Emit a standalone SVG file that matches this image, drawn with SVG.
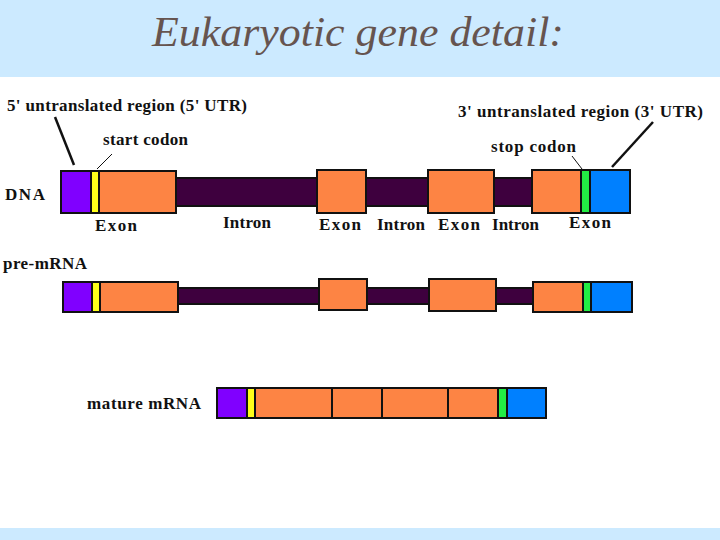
<svg xmlns="http://www.w3.org/2000/svg" width="720" height="540" viewBox="0 0 720 540">
<style>
.lbl{font-family:"Liberation Serif",serif;font-size:17px;font-weight:bold;fill:#111}
.s{stroke:#111;stroke-width:2}
.utr5{fill:#8000ff}.start{fill:#ffff1a}.exon{fill:#fd8444}.intron{fill:#3e003e}.stop{fill:#22ee44}.utr3{fill:#0080ff}
.ptr{stroke:#111;fill:none}
</style>
<rect x="0" y="0" width="720" height="540" fill="#ffffff"/>
<rect x="0" y="0" width="720" height="77" fill="#cceaff"/>
<rect x="0" y="528" width="720" height="12" fill="#cceaff"/>
<text x="358" y="46" text-anchor="middle" font-family="Liberation Serif,serif" font-style="italic" font-size="43" fill="#66544f" textLength="412" lengthAdjust="spacingAndGlyphs">Eukaryotic gene detail:</text>

<g id="connectors">
<line class="ptr" x1="55" y1="117" x2="74" y2="165" stroke-width="2.5"/>
<line class="ptr" x1="112" y1="154" x2="97" y2="169" stroke-width="1"/>
<line class="ptr" x1="572" y1="156" x2="582" y2="169" stroke-width="1"/>
<line class="ptr" x1="653" y1="122" x2="612" y2="167" stroke-width="2.5"/>
</g>

<g id="labels">
<text class="lbl" x="7" y="111" textLength="240" lengthAdjust="spacing">5' untranslated region (5' UTR)</text>
<text class="lbl" x="103" y="145" textLength="85" lengthAdjust="spacing">start codon</text>
<text class="lbl" x="458" y="117" textLength="245" lengthAdjust="spacing">3' untranslated region  (3' UTR)</text>
<text class="lbl" x="491" y="152" textLength="85" lengthAdjust="spacing">stop codon</text>
<text class="lbl" x="5" y="200" textLength="40" lengthAdjust="spacing">DNA</text>
<text class="lbl" x="95" y="231" textLength="42" lengthAdjust="spacing">Exon</text>
<text class="lbl" x="223" y="228" textLength="48" lengthAdjust="spacing">Intron</text>
<text class="lbl" x="319" y="230" textLength="42" lengthAdjust="spacing">Exon</text>
<text class="lbl" x="377" y="230" textLength="48" lengthAdjust="spacing">Intron</text>
<text class="lbl" x="438" y="230" textLength="42" lengthAdjust="spacing">Exon</text>
<text class="lbl" x="492" y="230" textLength="47" lengthAdjust="spacing">Intron</text>
<text class="lbl" x="569" y="228" textLength="42" lengthAdjust="spacing">Exon</text>
<text class="lbl" x="3" y="269" textLength="84" lengthAdjust="spacing">pre-mRNA</text>
<text class="lbl" x="87" y="409" textLength="114" lengthAdjust="spacing">mature mRNA</text>
</g>

<g id="dna">
<rect class="intron s" x="176" y="178" width="356" height="28"/>
<rect class="utr5 s" x="61" y="171" width="30" height="42"/>
<rect class="start s" x="91" y="171" width="8" height="42"/>
<rect class="exon s" x="99" y="171" width="77" height="42"/>
<rect class="exon s" x="317" y="170" width="49" height="43"/>
<rect class="exon s" x="428" y="170" width="66" height="43"/>
<rect class="exon s" x="532" y="170" width="49" height="43"/>
<rect class="stop s" x="581" y="170" width="9" height="43"/>
<rect class="utr3 s" x="590" y="170" width="40" height="43"/>
</g>

<g id="pre-mrna">
<rect class="intron s" x="178" y="288" width="355" height="16"/>
<rect class="utr5 s" x="63" y="282" width="29" height="30"/>
<rect class="start s" x="92" y="282" width="8" height="30"/>
<rect class="exon s" x="100" y="282" width="78" height="30"/>
<rect class="exon s" x="319" y="279" width="48" height="31"/>
<rect class="exon s" x="429" y="279" width="67" height="32"/>
<rect class="exon s" x="533" y="282" width="50" height="30"/>
<rect class="stop s" x="583" y="282" width="8" height="30"/>
<rect class="utr3 s" x="591" y="282" width="41" height="30"/>
</g>

<g id="mature-mrna">
<rect class="utr5 s" x="217" y="388" width="30" height="30"/>
<rect class="start s" x="247" y="388" width="8" height="30"/>
<rect class="exon s" x="255" y="388" width="77" height="30"/>
<rect class="exon s" x="332" y="388" width="50" height="30"/>
<rect class="exon s" x="382" y="388" width="66" height="30"/>
<rect class="exon s" x="448" y="388" width="50" height="30"/>
<rect class="stop s" x="498" y="388" width="9" height="30"/>
<rect class="utr3 s" x="507" y="388" width="39" height="30"/>
</g>
</svg>
